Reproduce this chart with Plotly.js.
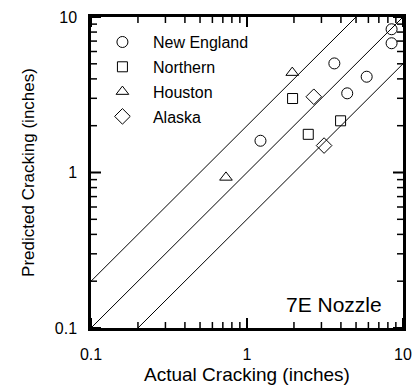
<!DOCTYPE html>
<html><head><meta charset="utf-8">
<script src="https://cdn.plot.ly/plotly-3.0.1.min.js"></script>
<style>html,body{margin:0;padding:0;background:#fff}#c{width:416px;height:390px}</style>
</head><body><div id="c"></div>
<script>
// values in inches (log-log chart)
const neX = [8.45, 8.45, 3.63, 5.85, 4.39, 1.22];
const neY = [8.34, 6.78, 5.03, 4.13, 3.23, 1.60];
const noX = [1.96, 3.98, 2.47];
const noY = [2.99, 2.15, 1.76];
const hoX = [1.95, 0.733];
const hoY = [4.39, 0.93];
const akX = [2.68, 3.12];
const akY = [3.07, 1.49];
const lineX = [0.1, 10];
const ratios = [2, 1, 0.5];
const majorTicks = [0.1, 1, 10];
const majorLabels = ['0.1', '1', '10'];
const minorTicks = [0.2,0.3,0.4,0.5,0.6,0.7,0.8,0.9,2,3,4,5,6,7,8,9];

// log10 scale mapping (drawn on linear axes in decades)
const L = a => a.map(v => Math.log10(v));

const traces = [];
ratios.forEach(r => {
  traces.push({x: L(lineX), y: L(lineX.map(v => v*r)), mode:'lines', line:{color:'black', width:1}, showlegend:false, hoverinfo:'skip'});
});
function pts(x, y, name, sym, size){
  return {x: L(x), y: L(y), name, legendgroup:name, mode:'markers', type:'scatter',
    marker:{symbol:sym, size:size, color:'black', line:{color:'black', width:1}}};
}
traces.push(pts(neX, neY, 'New England', 'circle-open', 11));
traces.push(pts(noX, noY, 'Northern', 'square-open', 10));
traces.push(pts(hoX, hoY, 'Houston', 'triangle-up-open', 11));
traces.push(pts(akX, akY, 'Alaska', 'diamond-open', 12));

// tick marks on all four sides, built from the tick arrays
const W = 416 - 91 - 13, H = 390 - 17 - 62;
const shapes = [];
function addTicks(vals, lenPx, width){
  L(vals).forEach(v => {
    const fy = lenPx / H, fx = lenPx / W;
    const ln = {color:'black', width:width};
    shapes.push({type:'line', layer:'above', xref:'x', yref:'paper', x0:v, x1:v, y0:0, y1:fy, line:ln});
    shapes.push({type:'line', layer:'above', xref:'x', yref:'paper', x0:v, x1:v, y0:1, y1:1-fy, line:ln});
    shapes.push({type:'line', layer:'above', xref:'paper', yref:'y', y0:v, y1:v, x0:0, x1:fx, line:ln});
    shapes.push({type:'line', layer:'above', xref:'paper', yref:'y', y0:v, y1:v, x0:1, x1:1-fx, line:ln});
  });
}
addTicks(majorTicks, 10, 2);
addTicks(minorTicks, 6, 1.5);

const FF = 'Liberation Sans, Arial, Helvetica, sans-serif';
const axisBase = {
  range:[-1, 1], tickmode:'array', tickvals: L(majorTicks), ticktext: majorLabels,
  ticks:'',
  showline:true, linecolor:'black', linewidth:2.5, mirror:true,
  showgrid:false, zeroline:false,
  tickfont:{family:FF, size:16, color:'black'}
};
const layout = {
  width:416, height:390,
  margin:{l:91, r:13, t:17, b:62},
  paper_bgcolor:'white', plot_bgcolor:'white',
  font:{family:FF, color:'black'},
  xaxis: Object.assign({}, axisBase, {
    ticklabelstandoff: 10,
    title:{text:'Actual Cracking (inches)', font:{size:19, color:'black'}, standoff:6}
  }),
  yaxis: Object.assign({}, axisBase, {
    ticklabelstandoff: 8,
    title:{text:'Predicted Cracking (inches)', font:{size:17, color:'black'}, standoff:16}
  }),
  shapes: shapes,
  showlegend:true,
  legend:{x:0.003, y:0.974, xanchor:'left', yanchor:'top', bgcolor:'rgba(0,0,0,0)',
    font:{size:16, color:'black'}, traceorder:'grouped', tracegroupgap:1, itemwidth:51},
  annotations:[{text:'7E Nozzle', xref:'paper', yref:'paper', x:0.779, y:0.074,
    xanchor:'center', yanchor:'middle',
    showarrow:false, font:{size:21, color:'black'}}]
};
Plotly.newPlot('c', traces, layout, {displayModeBar:false});
</script></body></html>
